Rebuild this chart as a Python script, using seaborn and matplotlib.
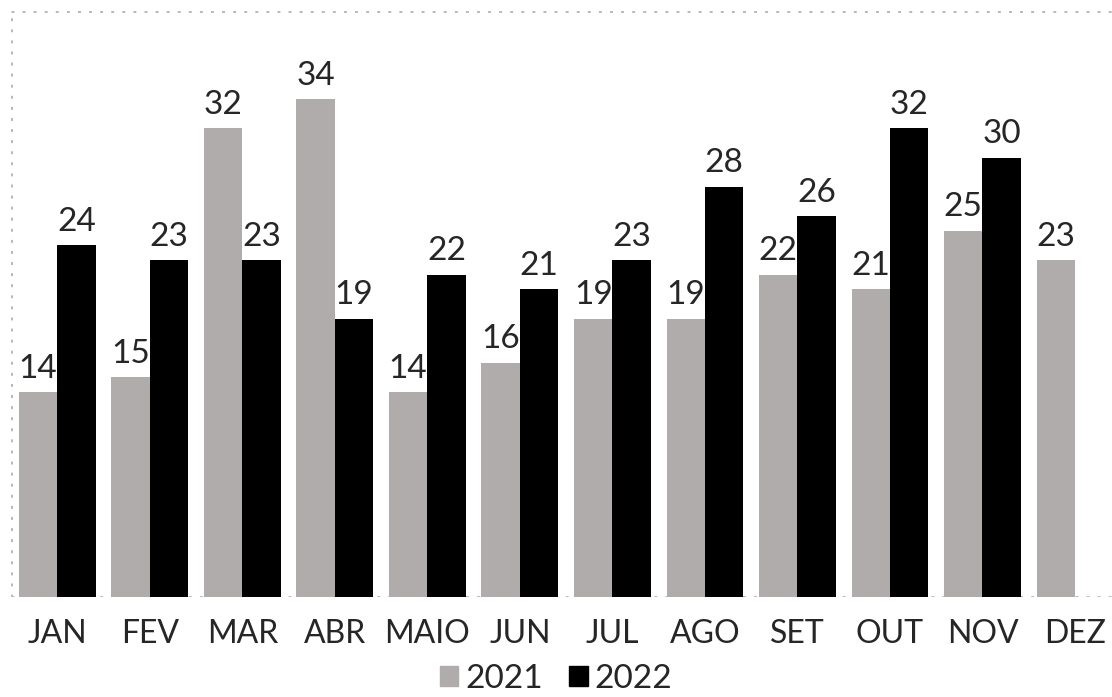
import pandas as pd
import matplotlib.pyplot as plt
import seaborn as sns
from matplotlib.patches import Patch

meses = ['JAN', 'FEV', 'MAR', 'ABR', 'MAIO', 'JUN', 'JUL', 'AGO', 'SET', 'OUT', 'NOV', 'DEZ']
v2021 = [14, 15, 32, 34, 14, 16, 19, 19, 22, 21, 25, 23]
v2022 = [24, 23, 23, 19, 22, 21, 23, 28, 26, 32, 30]
anos = ['2021', '2022']
cores = {'2021': '#b0acab', '2022': '#000000'}

df = pd.concat([
    pd.DataFrame({'mes': meses, 'valor': v2021, 'ano': '2021'}),
    pd.DataFrame({'mes': meses[:len(v2022)], 'valor': v2022, 'ano': '2022'}),
])

sns.set_style('white')
plt.rcParams['font.family'] = ['Lato', 'DejaVu Sans']

fig = plt.figure(figsize=(11.12, 6.97), dpi=100)
ax = fig.add_axes([11 / 1112, 100 / 697, 1101 / 1112, 586 / 697])

sns.barplot(data=df, x='mes', y='valor', hue='ano', order=meses, hue_order=anos,
            palette=cores, width=0.83, saturation=1, ax=ax, legend=False, linewidth=0)

for c in ax.containers:
    ax.bar_label(c, fmt='%d', padding=6, fontsize=24)

ax.set_ylim(0, 40)
ax.set_xlim(-0.5, 11.4)
for s in ax.spines.values():
    s.set_visible(False)
dot = dict(color='#b8b8b8', linestyle=(0, (1, 2.8)), linewidth=2.1, zorder=0)
ax.axhline(40, **dot)
ax.axhline(0, **dot)
ax.axvline(-0.5, **dot)
ax.set_yticks([])
ax.set_xlabel('')
ax.set_ylabel('')
ax.tick_params(axis='x', length=0, pad=16, labelsize=23)

handles = [Patch(color=cores[a], label=a) for a in anos]
fig.legend(handles=handles, loc='center', bbox_to_anchor=(0.5, 0.026), ncol=2, frameon=False,
           fontsize=24, handlelength=0.55, handleheight=0.55, handletextpad=0.2, columnspacing=0.8,
           borderpad=0)

fig.savefig('out.png', dpi=100)
